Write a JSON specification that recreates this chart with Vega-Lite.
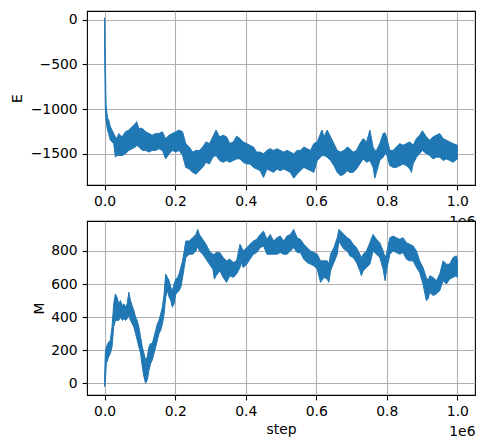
{
  "$schema": "https://vega.github.io/schema/vega-lite/v6.json",
  "padding": {"left": 10, "top": 10, "right": 5, "bottom": 5},
  "background": "white",
  "config": {
    "font": "DejaVu Sans",
    "view": {"stroke": "black", "strokeWidth": 1.1, "fill": "white"},
    "axis": {
      "grid": true, "gridColor": "#b0b0b0", "gridWidth": 1.1, "domain": false,
      "tickColor": "black", "tickWidth": 1.1, "tickSize": 4.9, "labelPadding": 4.9,
      "labelFont": "DejaVu Sans", "labelFontSize": 13.9, "labelColor": "black",
      "titleFont": "DejaVu Sans", "titleFontSize": 13.9, "titleFontWeight": "normal", "titleColor": "black"
    }
  },
  "datasets": {
    "E": [
      {"step": 0, "hi": 20, "lo": -300},
      {"step": 2000, "hi": -500, "lo": -1000},
      {"step": 4000, "hi": -950, "lo": -1130},
      {"step": 8000, "hi": -1100, "lo": -1235},
      {"step": 11400, "hi": -1121, "lo": -1273},
      {"step": 16200, "hi": -1197, "lo": -1348},
      {"step": 21000, "hi": -1235, "lo": -1367},
      {"step": 25700, "hi": -1273, "lo": -1386},
      {"step": 30500, "hi": -1311, "lo": -1538},
      {"step": 35000, "hi": -1330, "lo": -1519},
      {"step": 40000, "hi": -1273, "lo": -1519},
      {"step": 49500, "hi": -1311, "lo": -1519},
      {"step": 59000, "hi": -1254, "lo": -1500},
      {"step": 68600, "hi": -1235, "lo": -1462},
      {"step": 78000, "hi": -1197, "lo": -1443},
      {"step": 87600, "hi": -1159, "lo": -1424},
      {"step": 90500, "hi": -1140, "lo": -1405},
      {"step": 97000, "hi": -1216, "lo": -1424},
      {"step": 106700, "hi": -1216, "lo": -1462},
      {"step": 116000, "hi": -1254, "lo": -1462},
      {"step": 125700, "hi": -1273, "lo": -1481},
      {"step": 135000, "hi": -1292, "lo": -1462},
      {"step": 144800, "hi": -1273, "lo": -1462},
      {"step": 154000, "hi": -1273, "lo": -1443},
      {"step": 163800, "hi": -1254, "lo": -1462},
      {"step": 173000, "hi": -1330, "lo": -1557},
      {"step": 182900, "hi": -1292, "lo": -1500},
      {"step": 192000, "hi": -1273, "lo": -1462},
      {"step": 201900, "hi": -1254, "lo": -1481},
      {"step": 211000, "hi": -1235, "lo": -1462},
      {"step": 221000, "hi": -1254, "lo": -1519},
      {"step": 230000, "hi": -1386, "lo": -1652},
      {"step": 240000, "hi": -1424, "lo": -1670},
      {"step": 249500, "hi": -1481, "lo": -1708},
      {"step": 259000, "hi": -1462, "lo": -1727},
      {"step": 268600, "hi": -1462, "lo": -1689},
      {"step": 278000, "hi": -1424, "lo": -1652},
      {"step": 287600, "hi": -1367, "lo": -1595},
      {"step": 297000, "hi": -1386, "lo": -1614},
      {"step": 306700, "hi": -1311, "lo": -1538},
      {"step": 316000, "hi": -1235, "lo": -1519},
      {"step": 325700, "hi": -1311, "lo": -1576},
      {"step": 336000, "hi": -1292, "lo": -1595},
      {"step": 345700, "hi": -1311, "lo": -1576},
      {"step": 355000, "hi": -1386, "lo": -1595},
      {"step": 364800, "hi": -1367, "lo": -1576},
      {"step": 374000, "hi": -1303, "lo": -1557},
      {"step": 383800, "hi": -1330, "lo": -1557},
      {"step": 393000, "hi": -1367, "lo": -1595},
      {"step": 402900, "hi": -1386, "lo": -1614},
      {"step": 412000, "hi": -1405, "lo": -1614},
      {"step": 421900, "hi": -1424, "lo": -1652},
      {"step": 431000, "hi": -1481, "lo": -1670},
      {"step": 441000, "hi": -1481, "lo": -1689},
      {"step": 450500, "hi": -1500, "lo": -1765},
      {"step": 460000, "hi": -1462, "lo": -1670},
      {"step": 469500, "hi": -1443, "lo": -1689},
      {"step": 479000, "hi": -1462, "lo": -1708},
      {"step": 488600, "hi": -1443, "lo": -1670},
      {"step": 498000, "hi": -1462, "lo": -1689},
      {"step": 507600, "hi": -1481, "lo": -1670},
      {"step": 517000, "hi": -1462, "lo": -1689},
      {"step": 526700, "hi": -1481, "lo": -1708},
      {"step": 536000, "hi": -1500, "lo": -1773},
      {"step": 545700, "hi": -1462, "lo": -1727},
      {"step": 555000, "hi": -1462, "lo": -1689},
      {"step": 564800, "hi": -1424, "lo": -1652},
      {"step": 574000, "hi": -1443, "lo": -1670},
      {"step": 583800, "hi": -1462, "lo": -1689},
      {"step": 593000, "hi": -1386, "lo": -1708},
      {"step": 602900, "hi": -1367, "lo": -1576},
      {"step": 612000, "hi": -1273, "lo": -1538},
      {"step": 616000, "hi": -1235, "lo": -1520},
      {"step": 621900, "hi": -1311, "lo": -1519},
      {"step": 631000, "hi": -1235, "lo": -1538},
      {"step": 640500, "hi": -1311, "lo": -1576},
      {"step": 650000, "hi": -1386, "lo": -1633},
      {"step": 659500, "hi": -1462, "lo": -1708},
      {"step": 669000, "hi": -1481, "lo": -1746},
      {"step": 678600, "hi": -1462, "lo": -1727},
      {"step": 688000, "hi": -1424, "lo": -1689},
      {"step": 695000, "hi": -1443, "lo": -1708},
      {"step": 704700, "hi": -1481, "lo": -1708},
      {"step": 714000, "hi": -1462, "lo": -1670},
      {"step": 723600, "hi": -1386, "lo": -1614},
      {"step": 733000, "hi": -1330, "lo": -1557},
      {"step": 742500, "hi": -1367, "lo": -1595},
      {"step": 752000, "hi": -1235, "lo": -1576},
      {"step": 761000, "hi": -1424, "lo": -1652},
      {"step": 766000, "hi": -1462, "lo": -1773},
      {"step": 770800, "hi": -1462, "lo": -1708},
      {"step": 780000, "hi": -1386, "lo": -1576},
      {"step": 789600, "hi": -1273, "lo": -1538},
      {"step": 795000, "hi": -1265, "lo": -1500},
      {"step": 799000, "hi": -1311, "lo": -1500},
      {"step": 808500, "hi": -1462, "lo": -1633},
      {"step": 818000, "hi": -1462, "lo": -1652},
      {"step": 827000, "hi": -1424, "lo": -1652},
      {"step": 836800, "hi": -1386, "lo": -1633},
      {"step": 846000, "hi": -1405, "lo": -1614},
      {"step": 855700, "hi": -1386, "lo": -1633},
      {"step": 865000, "hi": -1367, "lo": -1670},
      {"step": 869800, "hi": -1386, "lo": -1708},
      {"step": 874500, "hi": -1405, "lo": -1614},
      {"step": 884000, "hi": -1330, "lo": -1538},
      {"step": 893000, "hi": -1292, "lo": -1500},
      {"step": 901000, "hi": -1243, "lo": -1462},
      {"step": 912000, "hi": -1311, "lo": -1500},
      {"step": 921700, "hi": -1348, "lo": -1519},
      {"step": 931000, "hi": -1311, "lo": -1557},
      {"step": 940600, "hi": -1292, "lo": -1538},
      {"step": 950000, "hi": -1273, "lo": -1538},
      {"step": 959600, "hi": -1330, "lo": -1576},
      {"step": 969000, "hi": -1348, "lo": -1557},
      {"step": 978300, "hi": -1367, "lo": -1576},
      {"step": 987700, "hi": -1386, "lo": -1595},
      {"step": 1000000, "hi": -1405, "lo": -1557}
    ],
    "M": [
      {"step": 0, "hi": 40, "lo": -20},
      {"step": 1900, "hi": 180, "lo": 20},
      {"step": 4800, "hi": 220, "lo": 120},
      {"step": 11400, "hi": 250, "lo": 160},
      {"step": 16200, "hi": 260, "lo": 180},
      {"step": 21000, "hi": 340, "lo": 220},
      {"step": 25700, "hi": 480, "lo": 340},
      {"step": 30500, "hi": 540, "lo": 380},
      {"step": 35000, "hi": 520, "lo": 380},
      {"step": 40000, "hi": 480, "lo": 380},
      {"step": 44800, "hi": 500, "lo": 400},
      {"step": 49500, "hi": 470, "lo": 380},
      {"step": 54300, "hi": 480, "lo": 390},
      {"step": 59000, "hi": 460, "lo": 380},
      {"step": 63800, "hi": 480, "lo": 390},
      {"step": 68600, "hi": 550, "lo": 410},
      {"step": 73300, "hi": 500, "lo": 380},
      {"step": 78000, "hi": 470, "lo": 360},
      {"step": 82900, "hi": 440, "lo": 340},
      {"step": 87600, "hi": 400, "lo": 300},
      {"step": 92400, "hi": 380, "lo": 260},
      {"step": 97000, "hi": 340, "lo": 220},
      {"step": 101900, "hi": 280, "lo": 180},
      {"step": 106700, "hi": 220, "lo": 100},
      {"step": 111400, "hi": 180, "lo": 40},
      {"step": 116000, "hi": 140, "lo": 0},
      {"step": 121000, "hi": 160, "lo": 20},
      {"step": 125700, "hi": 220, "lo": 80},
      {"step": 130500, "hi": 240, "lo": 120},
      {"step": 135000, "hi": 240, "lo": 140},
      {"step": 140000, "hi": 280, "lo": 180},
      {"step": 144800, "hi": 320, "lo": 220},
      {"step": 149500, "hi": 360, "lo": 260},
      {"step": 154000, "hi": 380, "lo": 300},
      {"step": 159000, "hi": 420, "lo": 320},
      {"step": 163800, "hi": 460, "lo": 360},
      {"step": 168600, "hi": 540, "lo": 420},
      {"step": 173000, "hi": 660, "lo": 520},
      {"step": 178000, "hi": 640, "lo": 560},
      {"step": 182900, "hi": 620, "lo": 520},
      {"step": 187600, "hi": 580, "lo": 500},
      {"step": 192000, "hi": 560, "lo": 460},
      {"step": 197000, "hi": 600, "lo": 480},
      {"step": 201900, "hi": 630, "lo": 540},
      {"step": 206700, "hi": 640, "lo": 550},
      {"step": 211000, "hi": 660, "lo": 560},
      {"step": 216000, "hi": 700, "lo": 580},
      {"step": 221000, "hi": 740, "lo": 640},
      {"step": 225700, "hi": 800, "lo": 700},
      {"step": 230000, "hi": 860, "lo": 760},
      {"step": 240000, "hi": 860, "lo": 780},
      {"step": 249500, "hi": 880, "lo": 780},
      {"step": 259000, "hi": 900, "lo": 800},
      {"step": 263800, "hi": 930, "lo": 830},
      {"step": 268600, "hi": 900, "lo": 800},
      {"step": 278000, "hi": 870, "lo": 780},
      {"step": 287600, "hi": 840, "lo": 750},
      {"step": 297000, "hi": 800, "lo": 720},
      {"step": 306700, "hi": 780, "lo": 690},
      {"step": 311000, "hi": 780, "lo": 630},
      {"step": 316000, "hi": 790, "lo": 650},
      {"step": 326700, "hi": 790, "lo": 680},
      {"step": 336000, "hi": 760, "lo": 640},
      {"step": 345700, "hi": 740, "lo": 610},
      {"step": 355000, "hi": 750, "lo": 650},
      {"step": 364800, "hi": 730, "lo": 640},
      {"step": 374000, "hi": 740, "lo": 660},
      {"step": 383800, "hi": 840, "lo": 700},
      {"step": 388600, "hi": 820, "lo": 730},
      {"step": 393000, "hi": 800, "lo": 700},
      {"step": 402900, "hi": 820, "lo": 720},
      {"step": 412000, "hi": 840, "lo": 750},
      {"step": 421900, "hi": 860, "lo": 780},
      {"step": 431000, "hi": 870, "lo": 790},
      {"step": 441000, "hi": 900, "lo": 820},
      {"step": 450500, "hi": 920, "lo": 830},
      {"step": 460000, "hi": 870, "lo": 780},
      {"step": 469500, "hi": 900, "lo": 780},
      {"step": 479000, "hi": 860, "lo": 780},
      {"step": 488600, "hi": 880, "lo": 780},
      {"step": 498000, "hi": 890, "lo": 790},
      {"step": 507600, "hi": 860, "lo": 780},
      {"step": 517000, "hi": 890, "lo": 780},
      {"step": 526700, "hi": 900, "lo": 800},
      {"step": 536000, "hi": 930, "lo": 820},
      {"step": 545700, "hi": 880, "lo": 790},
      {"step": 555000, "hi": 870, "lo": 790},
      {"step": 564800, "hi": 840, "lo": 750},
      {"step": 574000, "hi": 820, "lo": 730},
      {"step": 583800, "hi": 800, "lo": 720},
      {"step": 593000, "hi": 790, "lo": 710},
      {"step": 602900, "hi": 780, "lo": 690},
      {"step": 612000, "hi": 740, "lo": 610},
      {"step": 621900, "hi": 740, "lo": 640},
      {"step": 631000, "hi": 740, "lo": 630},
      {"step": 635700, "hi": 720, "lo": 610},
      {"step": 640500, "hi": 780, "lo": 680},
      {"step": 650000, "hi": 820, "lo": 730},
      {"step": 659500, "hi": 880, "lo": 780},
      {"step": 664000, "hi": 930, "lo": 860},
      {"step": 669000, "hi": 920, "lo": 840},
      {"step": 678600, "hi": 900, "lo": 810},
      {"step": 688000, "hi": 880, "lo": 800},
      {"step": 695300, "hi": 870, "lo": 770},
      {"step": 704700, "hi": 840, "lo": 760},
      {"step": 714000, "hi": 820, "lo": 730},
      {"step": 723600, "hi": 780, "lo": 680},
      {"step": 728000, "hi": 760, "lo": 650},
      {"step": 733000, "hi": 780, "lo": 680},
      {"step": 742500, "hi": 800, "lo": 700},
      {"step": 752000, "hi": 850, "lo": 720},
      {"step": 761000, "hi": 900, "lo": 800},
      {"step": 770800, "hi": 870, "lo": 780},
      {"step": 780000, "hi": 850, "lo": 760},
      {"step": 789600, "hi": 800, "lo": 690},
      {"step": 795000, "hi": 760, "lo": 620},
      {"step": 799000, "hi": 780, "lo": 680},
      {"step": 808500, "hi": 880, "lo": 780},
      {"step": 818000, "hi": 890, "lo": 800},
      {"step": 827000, "hi": 880, "lo": 790},
      {"step": 836800, "hi": 870, "lo": 780},
      {"step": 846000, "hi": 880, "lo": 790},
      {"step": 855700, "hi": 850, "lo": 750},
      {"step": 865000, "hi": 840, "lo": 740},
      {"step": 874500, "hi": 830, "lo": 740},
      {"step": 884000, "hi": 800, "lo": 700},
      {"step": 893000, "hi": 740, "lo": 670},
      {"step": 902600, "hi": 700, "lo": 600},
      {"step": 912000, "hi": 640, "lo": 500},
      {"step": 917000, "hi": 620, "lo": 510},
      {"step": 921700, "hi": 650, "lo": 550},
      {"step": 931000, "hi": 640, "lo": 530},
      {"step": 940600, "hi": 620, "lo": 540},
      {"step": 950000, "hi": 660, "lo": 560},
      {"step": 959600, "hi": 740, "lo": 620},
      {"step": 969000, "hi": 720, "lo": 600},
      {"step": 978300, "hi": 720, "lo": 630},
      {"step": 987700, "hi": 760, "lo": 640},
      {"step": 997000, "hi": 770, "lo": 650},
      {"step": 1000000, "hi": 750, "lo": 640}
    ]
  },
  "bounds": "flush",
  "spacing": 36,
  "vconcat": [
    {
      "width": 388,
      "height": 174,
      "data": {"name": "E"},
      "mark": {"type": "area", "color": "#1f77b4", "stroke": "#1f77b4", "strokeWidth": 1},
      "encoding": {
        "x": {
          "field": "step", "type": "quantitative",
          "scale": {"domain": [-50000, 1050000], "nice": false, "zero": false},
          "axis": {
            "values": [0, 200000, 400000, 600000, 800000, 1000000],
            "labelExpr": "format(datum.value / 1000000, '.1f')",
            "title": "1e6", "titleAlign": "right", "titleBaseline": "alphabetic",
            "titleX": 388, "titleY": 40
          }
        },
        "y": {
          "field": "hi", "type": "quantitative",
          "scale": {"domain": [-1849, 96], "nice": false, "zero": false},
          "axis": {
            "values": [-1500, -1000, -500, 0], "format": "d",
            "title": "E", "titleAngle": 270, "titleAlign": "center", "titleBaseline": "middle",
            "titleX": -69.2, "titleY": 87
          }
        },
        "y2": {"field": "lo"}
      }
    },
    {
      "width": 388,
      "height": 174,
      "data": {"name": "M"},
      "encoding": {
        "y": {
          "field": "hi", "type": "quantitative",
          "scale": {"domain": [-71, 981], "nice": false, "zero": false},
          "axis": {
            "values": [0, 200, 400, 600, 800], "format": "d",
            "title": "M", "titleAngle": 270, "titleAlign": "center", "titleBaseline": "middle",
            "titleX": -47.6, "titleY": 87
          }
        },
        "y2": {"field": "lo"}
      },
      "layer": [
        {
          "mark": {"type": "area", "color": "#1f77b4", "stroke": "#1f77b4", "strokeWidth": 1},
          "encoding": {
            "x": {
              "field": "step", "type": "quantitative",
              "scale": {"domain": [-50000, 1050000], "nice": false, "zero": false},
              "axis": {
                "values": [0, 200000, 400000, 600000, 800000, 1000000],
                "labelExpr": "format(datum.value / 1000000, '.1f')",
                "title": "step", "titleAlign": "center", "titleBaseline": "alphabetic",
                "titleX": 194, "titleY": 38.5
              }
            }
          }
        },
        {
          "mark": {"type": "area", "opacity": 0},
          "encoding": {
            "x": {
              "field": "step", "type": "quantitative",
              "scale": {"domain": [-50000, 1050000], "nice": false, "zero": false},
              "axis": {
                "orient": "bottom", "labels": false, "ticks": false, "grid": false, "domain": false,
                "title": "1e6", "titleAlign": "right", "titleBaseline": "alphabetic",
                "titleX": 388, "titleY": 40
              }
            }
          }
        }
      ],
      "resolve": {"axis": {"x": "independent"}}
    }
  ]
}
